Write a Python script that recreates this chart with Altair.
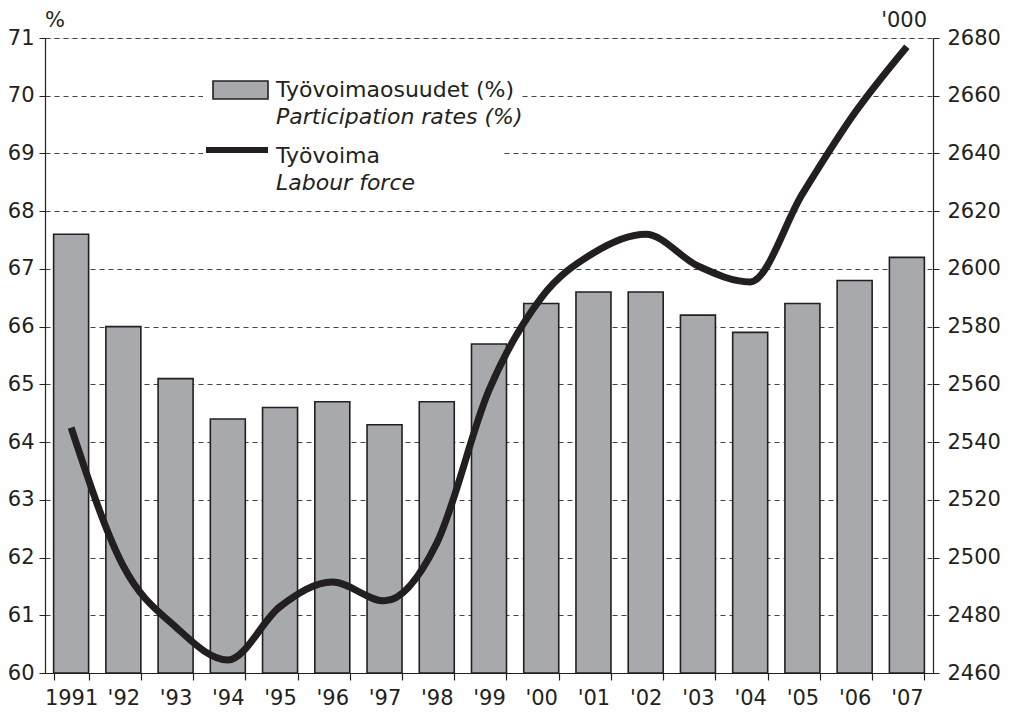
import altair as alt
import pandas as pd

years = ["1991", "'92", "'93", "'94", "'95", "'96", "'97", "'98", "'99",
         "'00", "'01", "'02", "'03", "'04", "'05", "'06", "'07"]
participation = [67.6, 66.0, 65.1, 64.4, 64.6, 64.7, 64.3, 64.7, 65.7,
                 66.4, 66.6, 66.6, 66.2, 65.9, 66.4, 66.8, 67.2]
labour_force = [2545, 2497, 2476, 2464.5, 2483, 2491.5, 2485, 2505, 2558,
                2590, 2605.5, 2612, 2601, 2595.5, 2626, 2654, 2677]
left_ticks = list(range(60, 72))
right_ticks = list(range(2460, 2681, 20))
legend_labels = ["Työvoimaosuudet (%)", "Participation rates (%)", "Työvoima", "Labour force"]
left_unit = "%"
right_unit = "'000"

df = pd.DataFrame({"year": years, "rate": participation, "force": labour_force})

FONT = "DejaVu Sans"
FS = 21
LFS = 22
INK = "#231f20"
BAR = "#a7a9ac"

x_enc = alt.X(
    "year:N", sort=years,
    scale=alt.Scale(paddingInner=0.33, paddingOuter=0.165),
    axis=alt.Axis(title=None, labelAngle=0, tickBand="extent", tickSize=7,
                  labelPadding=7, labelFontSize=FS, labelFont=FONT, labelColor=INK,
                  domainColor=INK, tickColor=INK, domainWidth=1.2, tickWidth=1.2,
                  labelOverlap=False),
)

bars = alt.Chart(df).mark_bar(color=BAR, stroke=INK, strokeWidth=1.6).encode(
    x=x_enc,
    y=alt.Y("rate:Q", scale=alt.Scale(domain=[60, 71], nice=False, zero=False),
            axis=alt.Axis(title=None, values=left_ticks, grid=True, gridDash=[5, 4],
                          gridColor="#444444", gridWidth=1, tickSize=6, tickColor=INK,
                          domainColor=INK, domainWidth=1.2, labelFontSize=FS,
                          labelFont=FONT, labelColor=INK, labelPadding=5, format="d")),
    y2=alt.datum(60),
)

line = alt.Chart(df).mark_line(color=INK, strokeWidth=7, interpolate="monotone").encode(
    x=alt.X("year:N", sort=years),
    y=alt.Y("force:Q", scale=alt.Scale(domain=[2460, 2680], nice=False, zero=False),
            axis=alt.Axis(title=None, orient="right", values=right_ticks, grid=False,
                          tickSize=6, tickColor=INK, domainColor=INK, domainWidth=1.2,
                          labelFontSize=FS, labelFont=FONT, labelColor=INK,
                          labelPadding=8, format="d")),
)


def box(x1, x2, y1, y2, color):
    return alt.Chart(pd.DataFrame({"k": [0]})).mark_rect(color=color).encode(
        x=alt.value(x1), x2=alt.value(x2), y=alt.value(y1), y2=alt.value(y2))


def label(txt, xx, yy, align="left", italic=False, size=LFS):
    return alt.Chart(pd.DataFrame({"t": [txt]})).mark_text(
        align=align, baseline="alphabetic", font=FONT, fontSize=size, color=INK,
        fontStyle="italic" if italic else "normal").encode(
        text="t:N", x=alt.value(xx), y=alt.value(yy))


white1 = box(158, 477, 40, 95, "white")
white2 = box(158, 458, 100, 160, "white")
swatch_bar = alt.Chart(pd.DataFrame({"k": [0]})).mark_rect(
    color=BAR, stroke=INK, strokeWidth=1.6).encode(
    x=alt.value(168), x2=alt.value(223), y=alt.value(43), y2=alt.value(61))
swatch_line = box(161, 223, 109, 115, INK)

texts = [
    label(legend_labels[0], 231, 59),
    label(legend_labels[1], 231, 86, italic=True),
    label(legend_labels[2], 231, 125),
    label(legend_labels[3], 231, 152, italic=True),
    label(left_unit, 0, -11, size=21),
    label(right_unit, 882, -11, align="right", size=21),
]

chart = alt.layer(bars, line, white1, white2, swatch_bar, swatch_line, *texts).resolve_scale(
    y="independent"
).properties(
    width=888, height=635,
    autosize=alt.AutoSizeParams(type="none"),
    padding={"left": 37, "top": 30, "right": 70, "bottom": 35},
).configure_view(stroke="#444444", strokeWidth=1.2).configure(background="white")

chart.save("out.html", embed_options={"renderer": "svg", "actions": False})
